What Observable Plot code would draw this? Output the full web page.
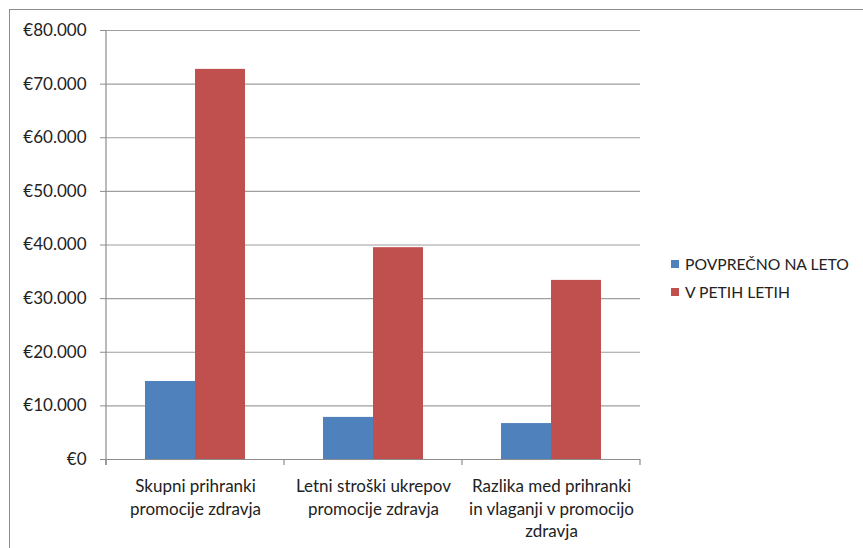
<!DOCTYPE html>
<html>
<head>
<meta charset="utf-8">
<script src="https://cdn.jsdelivr.net/npm/d3@7"></script>
<script src="https://cdn.jsdelivr.net/npm/@observablehq/plot@0.6"></script>
<style>
  html, body { margin: 0; padding: 0; background: #fff; }
  #wrap { position: relative; width: 863px; height: 548px; overflow: hidden; font-family: Lato, sans-serif; }
  #border { position: absolute; left: 9px; top: 9px; width: 900px; height: 600px; border: 1px solid #8c8c8c; box-sizing: border-box; }
  #legend { position: absolute; left: 671px; top: 250px; font-size: 15.7px; color: #222; }
  .item { display: flex; align-items: center; height: 28px; }
  .sw { width: 8px; height: 8px; margin-right: 6px; }
  #chart { position: absolute; left: 0; top: 0; }
</style>
</head>
<body>
<div id="wrap">
  <div id="border"></div>
  <div id="chart"></div>
  <div id="legend"></div>
</div>
<script>
const categories = [
  "Skupni prihranki\npromocije zdravja",
  "Letni stroški ukrepov\npromocije zdravja",
  "Razlika med prihranki\nin vlaganji v promocijo\nzdravja"
];
const seriesNames = ["POVPREČNO NA LETO", "V PETIH LETIH"];
const seriesColors = ["#4f81bd", "#c0504d"];
const perYear = [14550, 7850, 6700];
const fiveYears = [72750, 39500, 33400];
const yTicks = [0, 10000, 20000, 30000, 40000, 50000, 60000, 70000, 80000];

const data = [];
categories.forEach((c, i) => {
  data.push({category: c, series: seriesNames[0], value: perYear[i]});
  data.push({category: c, series: seriesNames[1], value: fiveYears[i]});
});

const locale = d3.formatLocale({decimal: ",", thousands: ".", grouping: [3], currency: ["€", ""]});
const fmt = locale.format("$,.0f");

const font = "Lato, sans-serif";
const plot = Plot.plot({
  width: 863,
  height: 548,
  marginLeft: 106,
  marginRight: 223,
  marginTop: 30,
  marginBottom: 89,
  style: {fontFamily: font, fontSize: "16.5px", color: "#222", background: "transparent"},
  fx: {domain: categories, padding: 0, label: null, axis: null},
  x: {domain: seriesNames, paddingInner: 0, paddingOuter: 0.76, axis: null},
  y: {domain: [0, 80000], label: null},
  color: {domain: seriesNames, range: seriesColors},
  marks: [
    Plot.gridY(yTicks, {stroke: "#9e9e9e", strokeOpacity: 1, strokeWidth: 1.1}),
    Plot.barY(data, {fx: "category", x: "series", y: "value", fill: "series"}),
    Plot.ruleY([0], {stroke: "#8c8c8c", strokeWidth: 1.2}),
    Plot.axisY(yTicks, {tickFormat: fmt, tickSize: 6, tickPadding: 14, stroke: "#8c8c8c", fontSize: 17, label: null}),
    Plot.axisFx({anchor: "bottom", tickSize: 0, tickPadding: 17, lineHeight: 1.32, fontSize: 17, label: null})
  ]
});

// category separators and y-axis line, from the fx scale
const fx = plot.scale("fx");
const ys = plot.scale("y");
const svg = d3.select(plot);
const y0 = ys.apply(0), yTop = ys.apply(80000);
const bounds = categories.map(c => fx.apply(c)).concat([fx.apply(categories[categories.length - 1]) + fx.bandwidth]);
const g = svg.append("g").attr("stroke", "#8c8c8c").attr("stroke-width", 1.2);
bounds.forEach(b => {
  g.append("line").attr("x1", b).attr("x2", b).attr("y1", y0).attr("y2", y0 + 6);
});
g.append("line").attr("x1", bounds[0]).attr("x2", bounds[0]).attr("y1", yTop).attr("y2", y0 + 6);

document.getElementById("chart").appendChild(plot);

const legend = document.getElementById("legend");
seriesNames.forEach((s, i) => {
  const d = document.createElement("div");
  d.className = "item";
  d.innerHTML = `<span class="sw" style="background:${seriesColors[i]}"></span><span>${s}</span>`;
  legend.appendChild(d);
});
</script>
</body>
</html>
